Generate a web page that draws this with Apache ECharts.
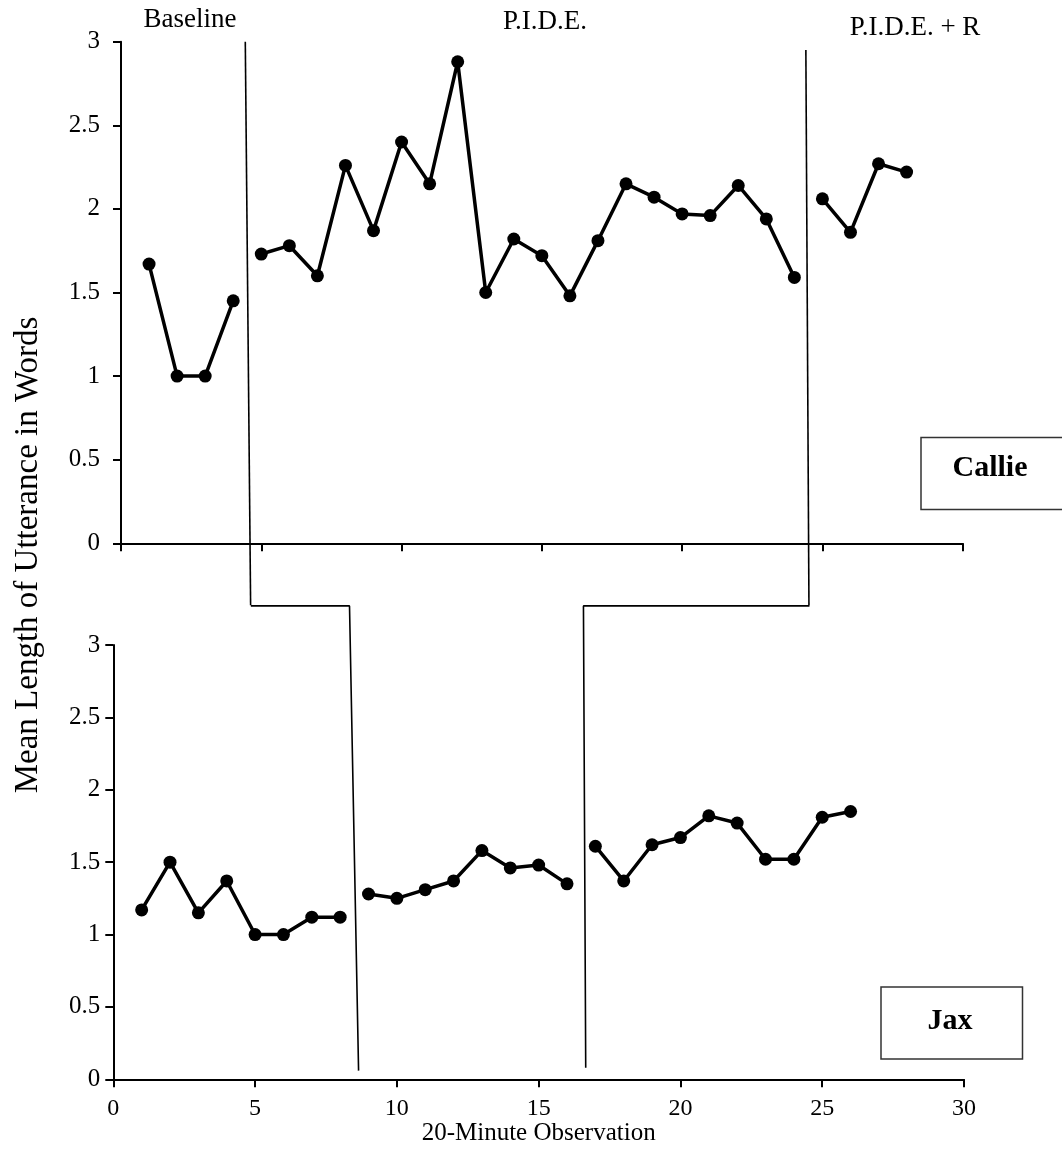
<!DOCTYPE html>
<html>
<head>
<meta charset="utf-8">
<script src="https://cdn.jsdelivr.net/npm/echarts@6/dist/echarts.min.js"></script>
<style>
html,body{margin:0;padding:0;background:#fff;}
#chart{width:1062px;height:1163px;}
</style>
</head>
<body>
<div id="chart"></div>
<script>
// ---- data ----
const xTicks = [0, 5, 10, 15, 20, 25, 30];
const yTicks = [0, 0.5, 1, 1.5, 2, 2.5, 3];
const phaseNames = ['Baseline', 'P.I.D.E.', 'P.I.D.E. + R'];
const participants = ['Callie', 'Jax'];

// Callie (top panel)
const callieBaselineStart = 1;
const callieBaseline = [1.67, 1.0, 1.0, 1.45];
const calliePideStart = 5;
const calliePide = [1.73, 1.78, 1.60, 2.26, 1.87, 2.40, 2.15, 2.88, 1.50, 1.82,
                    1.72, 1.48, 1.81, 2.15, 2.07, 1.97, 1.96, 2.14, 1.94, 1.59];
const calliePideRStart = 25;
const calliePideR = [2.06, 1.86, 2.27, 2.22];

// Jax (bottom panel)
const jaxBaselineStart = 1;
const jaxBaseline = [1.17, 1.50, 1.15, 1.37, 1.00, 1.00, 1.12, 1.12];
const jaxPideStart = 9;
const jaxPide = [1.28, 1.25, 1.31, 1.37, 1.58, 1.46, 1.48, 1.35];
const jaxPideRStart = 17;
const jaxPideR = [1.61, 1.37, 1.62, 1.67, 1.82, 1.77, 1.52, 1.52, 1.81, 1.85];

// Phase-change lines (observation, MLU value) — hand-drawn staircase
const phaseLine1Top = [[4.43, 3.0], [4.62, -0.37]];
const phaseLine1Bottom = [[4.85, 3.27], [8.33, 3.27], [8.65, 0.06]];
const phaseLine2Top = [[24.41, 2.95], [24.52, -0.37]];
const phaseLine2Bottom = [[24.55, 3.27], [16.58, 3.27], [16.66, 0.08]];

// ---- helpers ----
function toPoints(start, vals) { return vals.map((v, i) => [start + i, v]); }

const FONT = 'Liberation Serif';

function dataSeries(idx, start, vals) {
  return {
    type: 'line', xAxisIndex: idx, yAxisIndex: idx,
    data: toPoints(start, vals),
    symbol: 'circle', symbolSize: 13,
    itemStyle: { color: '#000' },
    lineStyle: { color: '#000', width: 3.5 },
    silent: true, animation: false, z: 5
  };
}
function phaseSeries(idx, pts) {
  return {
    type: 'line', xAxisIndex: idx, yAxisIndex: idx,
    data: pts, symbol: 'none', clip: false,
    lineStyle: { color: '#000', width: 1.6 },
    silent: true, animation: false, z: 3
  };
}

function xAxisCfg(idx, showLabels, name) {
  return {
    type: 'value', gridIndex: idx, min: 0, max: 30, interval: 5,
    axisLine: { show: true, onZero: false, lineStyle: { color: '#000', width: 2 } },
    axisTick: { show: true, length: 8, lineStyle: { color: '#000', width: 2 } },
    splitLine: { show: false },
    axisLabel: {
      show: showLabels, color: '#000', fontFamily: FONT, fontSize: 24, margin: 17,
      formatter: v => xTicks.includes(v) ? String(v) : ''
    },
    name: name || '', nameLocation: 'middle', nameGap: 42,
    nameTextStyle: { color: '#000', fontFamily: FONT, fontSize: 25 }
  };
}
function yAxisCfg(idx, margin) {
  return {
    type: 'value', gridIndex: idx, min: 0, max: 3, interval: 0.5,
    axisLine: { show: true, lineStyle: { color: '#000', width: 2 } },
    axisTick: { show: true, length: 8, lineStyle: { color: '#000', width: 2 } },
    splitLine: { show: false },
    axisLabel: {
      color: '#000', fontFamily: FONT, fontSize: 25, margin: margin,
      formatter: v => yTicks.includes(v) ? String(v) : ''
    }
  };
}

const chart = echarts.init(document.getElementById('chart'), null, { renderer: 'canvas' });
chart.setOption({
  backgroundColor: '#fff',
  animation: false,
  grid: [
    { left: 121, top: 41.7, right: 99.3, bottom: 619.7, containLabel: false },
    { left: 113.3, top: 645, right: 98, bottom: 83.7, containLabel: false }
  ],
  xAxis: [xAxisCfg(0, false), xAxisCfg(1, true, '20-Minute Observation')],
  yAxis: [yAxisCfg(0, 21), yAxisCfg(1, 13)],
  series: [
    dataSeries(0, callieBaselineStart, callieBaseline),
    dataSeries(0, calliePideStart, calliePide),
    dataSeries(0, calliePideRStart, calliePideR),
    dataSeries(1, jaxBaselineStart, jaxBaseline),
    dataSeries(1, jaxPideStart, jaxPide),
    dataSeries(1, jaxPideRStart, jaxPideR),
    phaseSeries(0, phaseLine1Top),
    phaseSeries(1, phaseLine1Bottom),
    phaseSeries(0, phaseLine2Top),
    phaseSeries(1, phaseLine2Bottom)
  ],
  graphic: [
    { type: 'text', x: 190, y: 20, style: { text: phaseNames[0], fill: '#000', font: '27px "' + FONT + '"', textAlign: 'center', textVerticalAlign: 'middle' } },
    { type: 'text', x: 545, y: 22, style: { text: phaseNames[1], fill: '#000', font: '27px "' + FONT + '"', textAlign: 'center', textVerticalAlign: 'middle' } },
    { type: 'text', x: 915, y: 28, style: { text: phaseNames[2], fill: '#000', font: '27px "' + FONT + '"', textAlign: 'center', textVerticalAlign: 'middle' } },
    { type: 'text', x: 28, y: 555, rotation: Math.PI / 2,
      style: { text: 'Mean Length of Utterance in Words', fill: '#000', font: '33px "' + FONT + '"', textAlign: 'center', textVerticalAlign: 'middle' } },
    { type: 'rect', shape: { x: 921, y: 437.5, width: 150, height: 72 }, style: { fill: '#fff', stroke: '#333', lineWidth: 1.5 }, z: 10 },
    { type: 'text', x: 990, y: 468, z: 11, style: { text: participants[0], fill: '#000', font: 'bold 30px "' + FONT + '"', textAlign: 'center', textVerticalAlign: 'middle' } },
    { type: 'rect', shape: { x: 881, y: 987, width: 141.5, height: 72 }, style: { fill: '#fff', stroke: '#333', lineWidth: 1.5 }, z: 10 },
    { type: 'text', x: 950, y: 1021, z: 11, style: { text: participants[1], fill: '#000', font: 'bold 30px "' + FONT + '"', textAlign: 'center', textVerticalAlign: 'middle' } }
  ]
});
</script>
</body>
</html>
